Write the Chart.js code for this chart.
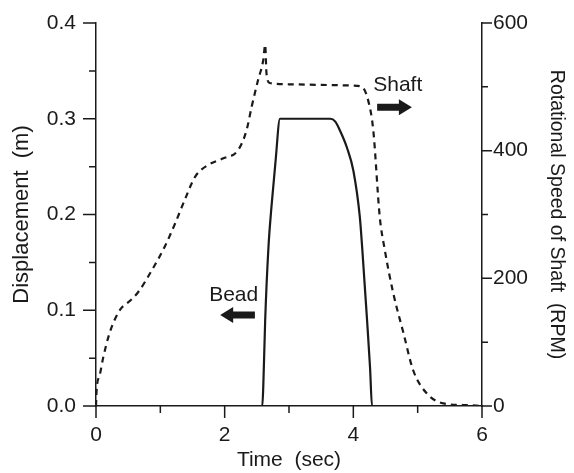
<!DOCTYPE html>
<html>
<head>
<meta charset="utf-8">
<script src="https://cdn.jsdelivr.net/npm/chart.js@4"></script>
<style>
  body { margin: 0; background: #fff; }
  #chart { display: block; }
</style>
</head>
<body>
<canvas id="chart" width="574" height="473"></canvas>
<script>
// Bead displacement (m) vs time (sec), left axis
const beadTime = [0, 2.585, 2.6, 2.63, 2.68, 2.73, 2.79, 2.86, 3.0, 3.3, 3.64, 3.72, 3.79, 3.9, 4.0, 4.1, 4.14, 4.21, 4.26, 4.29, 6];
const beadDisp = [0, 0, 0.02, 0.09, 0.165, 0.21, 0.255, 0.30, 0.30, 0.30, 0.30, 0.297, 0.288, 0.27, 0.246, 0.198, 0.163, 0.093, 0.04, 0, 0];

// Shaft rotational speed (RPM) vs time (sec), right axis
const shaftTime = [0, 0.01, 0.06, 0.11, 0.21, 0.29, 0.39, 0.52, 0.66, 0.87, 1.07, 1.23, 1.38, 1.54, 1.75, 1.98, 2.21, 2.34, 2.42, 2.52, 2.60, 2.63, 2.65, 2.70, 3.0, 3.5, 4.0, 4.13, 4.23, 4.31, 4.41, 4.49, 4.62, 4.78, 4.93, 5.14, 5.40, 5.71, 6.0];
const shaftRpm = [0, 25, 49, 75, 114, 135, 153, 164, 179, 213, 250, 286, 323, 359, 378, 388, 401, 432, 469, 511, 542, 566, 521, 506, 504, 503, 502, 500, 479, 432, 297, 244, 177, 114, 56, 20, 4, 1.6, 0];

const xTicks = [0, 2, 4, 6];
const xMinor = [1, 3, 5];
const leftTicks = [0, 0.1, 0.2, 0.3, 0.4];
const leftMinor = [0.05, 0.15, 0.25, 0.35];
const rightTicks = [0, 200, 400, 600];
const rightMinor = [100, 300, 500];

const FONT = 'Liberation Sans, Arial, sans-serif';
const INK = '#1a1a1a';

function toXY(xs, ys) {
    return xs.map((x, i) => ({ x: x, y: ys[i] }));
}

// no extra room for half labels, the layout padding handles it
function noPad(s) {
    s.paddingTop = 0;
    s.paddingBottom = 0;
    s.paddingLeft = 0;
    s.paddingRight = 0;
}

// draws outward tick marks, annotation labels and arrows
const decorations = {
    id: 'decorations',
    afterDraw(chart) {
        const ctx = chart.ctx;
        const { x, y, y2 } = chart.scales;
        const area = chart.chartArea;
        ctx.save();
        ctx.strokeStyle = INK;
        ctx.lineWidth = 1.5;
        ctx.beginPath();
        xTicks.forEach(v => { const p = x.getPixelForValue(v); ctx.moveTo(p, area.bottom); ctx.lineTo(p, area.bottom + 12); });
        xMinor.forEach(v => { const p = x.getPixelForValue(v); ctx.moveTo(p, area.bottom); ctx.lineTo(p, area.bottom + 7); });
        leftTicks.forEach(v => { const p = y.getPixelForValue(v); ctx.moveTo(area.left, p); ctx.lineTo(area.left - 13, p); });
        leftMinor.forEach(v => { const p = y.getPixelForValue(v); ctx.moveTo(area.left, p); ctx.lineTo(area.left - 7, p); });
        rightTicks.forEach(v => { const p = y2.getPixelForValue(v); ctx.moveTo(area.right, p); ctx.lineTo(area.right + 10, p); });
        rightMinor.forEach(v => { const p = y2.getPixelForValue(v); ctx.moveTo(area.right, p); ctx.lineTo(area.right + 6, p); });
        ctx.stroke();

        // labels
        ctx.fillStyle = INK;
        ctx.font = '21px ' + FONT;
        ctx.textAlign = 'center';
        ctx.textBaseline = 'middle';
        ctx.fillText('Bead', x.getPixelForValue(2.14), y.getPixelForValue(0.116));
        ctx.fillText('Shaft', x.getPixelForValue(4.69), y2.getPixelForValue(503));

        // arrows
        drawArrow(ctx, x.getPixelForValue(2.47), x.getPixelForValue(1.93), y.getPixelForValue(0.095));
        drawArrow(ctx, x.getPixelForValue(4.37), x.getPixelForValue(4.91), y2.getPixelForValue(468));
        ctx.restore();
    }
};

function drawArrow(ctx, from, to, py) {
    const dir = to > from ? 1 : -1;
    const head = 13;
    const neck = to - dir * head;
    ctx.beginPath();
    ctx.moveTo(from, py - 3.5);
    ctx.lineTo(neck, py - 3.5);
    ctx.lineTo(neck, py - 8);
    ctx.lineTo(to, py);
    ctx.lineTo(neck, py + 8);
    ctx.lineTo(neck, py + 3.5);
    ctx.lineTo(from, py + 3.5);
    ctx.closePath();
    ctx.fill();
}

const tickFont = { family: FONT, size: 21 };

new Chart(document.getElementById('chart').getContext('2d'), {
    type: 'line',
    data: {
        datasets: [
            {
                label: 'Bead',
                data: toXY(beadTime, beadDisp),
                yAxisID: 'y',
                borderColor: INK,
                borderWidth: 2.2,
                pointRadius: 0,
                cubicInterpolationMode: 'monotone',
                fill: false
            },
            {
                label: 'Shaft',
                data: toXY(shaftTime, shaftRpm),
                yAxisID: 'y2',
                borderColor: INK,
                borderWidth: 2.2,
                borderDash: [6, 5],
                pointRadius: 0,
                cubicInterpolationMode: 'monotone',
                fill: false
            }
        ]
    },
    options: {
        responsive: false,
        animation: false,
        devicePixelRatio: 1,
        layout: { padding: { top: 23, left: 0, right: 0, bottom: 0 } },
        plugins: { legend: { display: false }, tooltip: { enabled: false } },
        scales: {
            x: {
                type: 'linear',
                min: 0,
                max: 6,
                afterFit: s => { s.height = 67; noPad(s); },
                afterBuildTicks: s => { s.ticks = xTicks.map(v => ({ value: v })); },
                grid: { display: false, drawTicks: false },
                border: { display: true, color: INK, width: 1.5 },
                ticks: { color: INK, font: tickFont, padding: 17, maxRotation: 0 },
                title: { display: true, text: 'Time  (sec)', color: INK, font: tickFont, padding: { top: 1, bottom: 0 } }
            },
            y: {
                type: 'linear',
                position: 'left',
                min: 0,
                max: 0.4,
                afterFit: s => { s.width = 96; noPad(s); },
                afterBuildTicks: s => { s.ticks = leftTicks.map(v => ({ value: v })); },
                grid: { display: false, drawTicks: false },
                border: { display: true, color: INK, width: 1.5 },
                ticks: { color: INK, font: tickFont, padding: 20, callback: v => v.toFixed(1) },
                title: { display: true, text: 'Displacement  (m)', color: INK, font: { family: FONT, size: 22 }, padding: { top: 9, bottom: 0 } }
            },
            y2: {
                type: 'linear',
                position: 'right',
                min: 0,
                max: 600,
                afterFit: s => { s.width = 92; noPad(s); },
                afterBuildTicks: s => { s.ticks = rightTicks.map(v => ({ value: v })); },
                grid: { display: false, drawTicks: false },
                border: { display: true, color: INK, width: 1.5 },
                ticks: { color: INK, font: tickFont, padding: 11 },
                title: { display: true, text: 'Rotational Speed of Shaft  (RPM)', color: INK, font: { family: FONT, size: 19.5 }, padding: { top: 6, bottom: 0 } }
            }
        }
    },
    plugins: [decorations]
});
</script>
</body>
</html>
